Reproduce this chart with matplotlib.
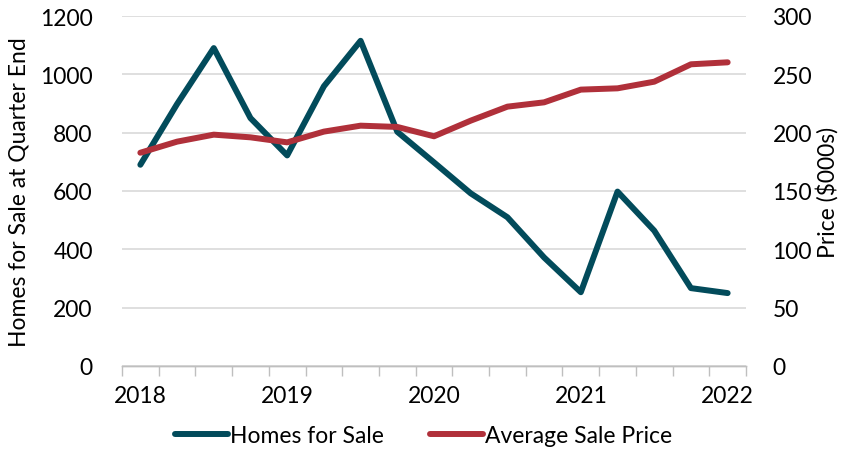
import numpy as np
import matplotlib.pyplot as plt
from matplotlib.ticker import FixedLocator

plt.rcParams['font.family'] = ['Lato', 'DejaVu Sans']

# quarterly series, Q1 2018 .. Q1 2022
quarters = ['2018', '', '', '', '2019', '', '', '', '2020', '', '', '',
            '2021', '', '', '', '2022']
homes = [690, 898, 1090, 850, 722, 959, 1115, 803, 698, 592, 510, 372,
         253, 598, 464, 267, 250]
price = [182.8, 192.3, 198.3, 196.0, 191.7, 200.9, 206.0, 204.9, 196.9,
         210.3, 222.3, 226.0, 236.9, 238.0, 243.7, 258.6, 260.3]

teal = '#024b5b'
red = '#b0303a'
fs = 16.5

fig = plt.figure(figsize=(8.47, 4.52), dpi=100)
ax = fig.add_axes([122/847, 1-367/452, (746-122)/847, 350/452])
ax2 = ax.twinx()

x = np.arange(len(homes))
l1, = ax.plot(x, homes, color=teal, lw=4.3, solid_joinstyle='round',
              solid_capstyle='round', label='Homes for Sale', zorder=3)
l2, = ax2.plot(x, price, color=red, lw=4.3, solid_joinstyle='round',
               solid_capstyle='round', label='Average Sale Price', zorder=3)

ax.set_xlim(-0.5, len(homes)-0.5)
ax.set_ylim(0, 1200)
ax2.set_ylim(0, 300)
ax.set_yticks(range(0, 1201, 200))
ax2.set_yticks(range(0, 301, 50))

ax.set_xticks(x)
ax.set_xticklabels(quarters)
ax.xaxis.set_minor_locator(FixedLocator(np.arange(-0.5, len(homes), 1)))
ax.tick_params(axis='x', which='major', length=0, pad=14, labelsize=fs)
ax.tick_params(axis='x', which='minor', length=7, width=1, color='#bfbfbf')
ax.tick_params(axis='y', length=0, pad=21, labelsize=fs)
ax2.tick_params(axis='y', length=0, pad=19, labelsize=fs)

ax.grid(axis='y', color='#d9d9d9', lw=1.2)
ax.set_axisbelow(True)
for a in (ax, ax2):
    for s in ('top', 'left', 'right'):
        a.spines[s].set_visible(False)
    a.spines['bottom'].set_color('#bfbfbf')
    a.spines['bottom'].set_linewidth(1)

ax.set_ylabel('Homes for Sale at Quarter End', fontsize=fs)
ax.yaxis.set_label_coords(-0.148, 0.5)
ax2.set_ylabel('Price ($000s)', fontsize=fs)
ax2.yaxis.set_label_coords(1.112, 0.5)

fig.legend(handles=[l1, l2], loc='center', bbox_to_anchor=(0.5, 1-437/452),
           ncol=2, frameon=False, fontsize=fs, handlelength=2.3,
           handletextpad=0.1, columnspacing=2.0)

fig.savefig('out.png', dpi=100)
